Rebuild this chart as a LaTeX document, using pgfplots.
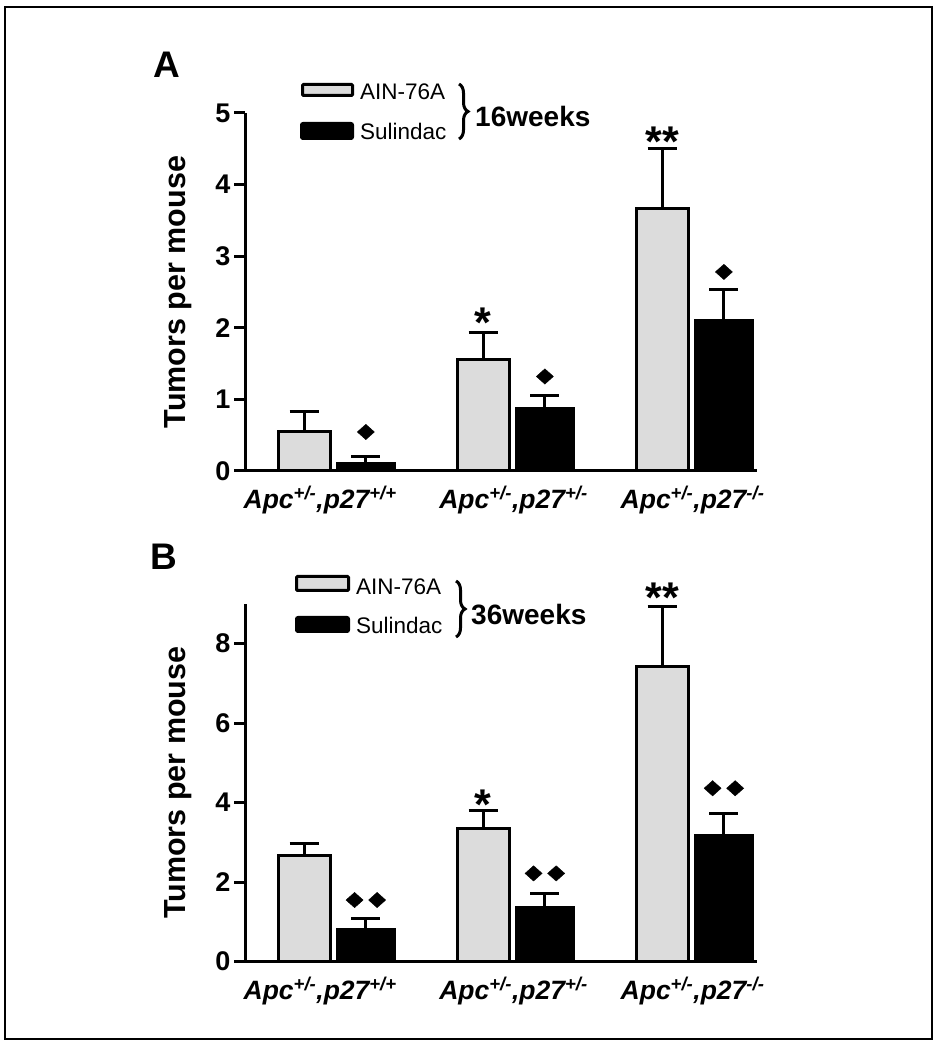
\documentclass[border=0pt]{standalone}
\usepackage{pgfplots}
\pgfplotsset{compat=1.18}
\usepackage{fontspec}
\setmainfont{Liberation Sans}
\usetikzlibrary{decorations.pathreplacing}
\definecolor{bargray}{RGB}{220,220,220}

\pgfplotsset{
  panel/.style={
    anchor=south west, scale only axis, width=512bp, height=358bp,
    xmin=-0.5, xmax=2.36, ymin=0,
    axis lines=left, axis line style={line width=3bp, -},
    xtick={-0.08,1,2},
    xticklabels={{Apc\textsuperscript{+/-},p27\textsuperscript{+/+}},{Apc\textsuperscript{+/-},p27\textsuperscript{+/-}},{Apc\textsuperscript{+/-},p27\textsuperscript{-/-}}},
    x tick style={draw=none},
    y tick style={line width=3bp, black},
    major tick length=11bp, tick align=outside,
    yticklabel style={font=\bfseries\fontsize{27bp}{27bp}\selectfont},
    xticklabel style={font=\bfseries\itshape\fontsize{26.5bp}{26.5bp}\selectfont, anchor=north, yshift=-1bp},
    ylabel={Tumors per mouse},
    ylabel style={font=\bfseries\fontsize{30.5bp}{30.5bp}\selectfont, at={(axis description cs:-0.131,0.5)}, anchor=center},
    /pgf/number format/assume math mode=true,
    clip=false,
  },
  graybar/.style={ybar, bar width=0.29, bar shift=0pt, fill=bargray, draw=black, line width=3bp,
    error bars/.cd, y dir=plus, y explicit,
    error bar style={line width=3bp, black},
    error mark options={black, line width=3bp, mark size=14.5bp, rotate=90}},
  blackbar/.style={ybar, bar width=0.315, bar shift=0pt, fill=black, draw=black, line width=3bp,
    error bars/.cd, y dir=plus, y explicit,
    error bar style={line width=3bp, black},
    error mark options={black, line width=3bp, mark size=14.5bp, rotate=90}},
  diam/.style={only marks, mark=square*, mark size=5.4bp,
    mark options={draw=none, fill=black, xscale=1.12, rotate=45}},
}
\newcommand{\starfont}{\bfseries\fontsize{43bp}{43bp}\selectfont}

\begin{document}
\begin{tikzpicture}[x=1bp,y=1bp]
\useasboundingbox (0,0) rectangle (939,1050);
\draw[line width=2bp] (5,1043) rectangle (932,11);

% ---------------- Panel A ----------------
\begin{axis}[panel, at={(245bp,579bp)}, ymax=5, ytick={0,1,2,3,4,5}]
\addplot[graybar] coordinates {(-0.17,0.55) +- (0,0.28) (0.83,1.56) +- (0,0.38) (1.83,3.67) +- (0,0.84)};
\addplot[blackbar] coordinates {(0.175,0.11) +- (0,0.09) (1.175,0.875) +- (0,0.175) (2.175,2.10) +- (0,0.43)};
\addplot[diam] coordinates {(0.175,0.545) (1.175,1.32) (2.175,2.78)};
\node[anchor=base, font=\starfont, yshift=-24.5bp] at (axis cs:0.83,2.2) {*};
\node[anchor=base, font=\starfont, yshift=-24.5bp] at (axis cs:1.83,4.73) {**};
\end{axis}

% ---------------- Panel B ----------------
\begin{axis}[panel, at={(245bp,88.3bp)}, ymax=9, ytick={0,2,4,6,8}]
\addplot[graybar] coordinates {(-0.17,2.68) +- (0,0.28) (0.83,3.35) +- (0,0.44) (1.83,7.43) +- (0,1.50)};
\addplot[blackbar] coordinates {(0.175,0.81) +- (0,0.28) (1.175,1.37) +- (0,0.35) (2.175,3.18) +- (0,0.55)};
\addplot[diam] coordinates {(0.112,1.55) (0.238,1.55) (1.112,2.22) (1.238,2.22) (2.112,4.36) (2.238,4.36)};
\node[anchor=base, font=\starfont, yshift=-24.5bp] at (axis cs:0.83,4.19) {*};
\node[anchor=base, font=\starfont, yshift=-24.5bp] at (axis cs:1.83,9.40) {**};
\end{axis}

% ---------------- Panel labels ----------------
\node[font=\bfseries\fontsize{37bp}{37bp}\selectfont] at (167,985) {A};
\node[font=\bfseries\fontsize{37bp}{37bp}\selectfont] at (164,493) {B};

% ---------------- Legend A ----------------
\draw[line width=3bp, fill=bargray, rounded corners=1bp] (302.5,965.5) rectangle (352.5,954.5);
\draw[line width=2bp, fill=black, rounded corners=2bp] (301,927) rectangle (353,911);
\node[anchor=west, inner sep=0, font=\fontsize{22.5bp}{22.5bp}\selectfont] at (360,958.3) {AIN-76A};
\node[anchor=west, inner sep=0, font=\fontsize{22.5bp}{22.5bp}\selectfont] at (360,918.3) {Sulindac};
\draw[decorate, decoration={brace, amplitude=9bp}, line width=3bp] (459,966) -- (459,911);
\node[anchor=west, inner sep=0, font=\bfseries\fontsize{28bp}{28bp}\selectfont] at (475,933.3) {16weeks};

% ---------------- Legend B ----------------
\draw[line width=3bp, fill=bargray, rounded corners=1bp] (296.5,473.5) rectangle (348.5,459.5);
\draw[line width=2bp, fill=black, rounded corners=2bp] (296,433) rectangle (349,418);
\node[anchor=west, inner sep=0, font=\fontsize{22.5bp}{22.5bp}\selectfont] at (356,463.3) {AIN-76A};
\node[anchor=west, inner sep=0, font=\fontsize{22.5bp}{22.5bp}\selectfont] at (356,425) {Sulindac};
\draw[decorate, decoration={brace, amplitude=9bp}, line width=3bp] (456,469) -- (456,413);
\node[anchor=west, inner sep=0, font=\bfseries\fontsize{28bp}{28bp}\selectfont] at (471,435) {36weeks};
\end{tikzpicture}
\end{document}
